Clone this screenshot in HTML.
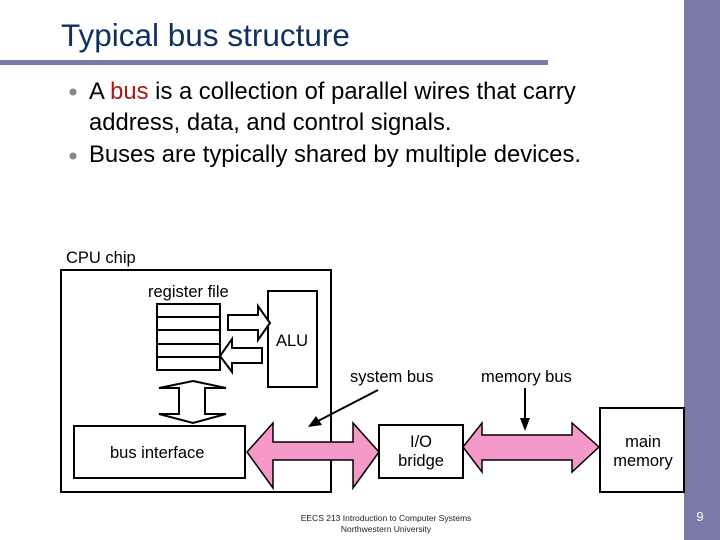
<!DOCTYPE html>
<html><head><meta charset="utf-8"><style>
body{margin:0;width:720px;height:540px;overflow:hidden;background:#fff}
svg{display:block}
</style></head><body>
<svg width="720" height="540" xmlns="http://www.w3.org/2000/svg" font-family="Liberation Sans, Arial, sans-serif">
<rect x="684" y="0" width="36" height="540" fill="#7a7aa6"/>
<text x="700" y="521" font-size="13" fill="#fff" text-anchor="middle">9</text>
<rect x="0" y="60" width="548" height="5" fill="#7a7aa6"/>
<text x="61" y="46" font-size="31.5" fill="#10305e">Typical bus structure</text>
<circle cx="73" cy="92" r="3.5" fill="#888"/>
<circle cx="73" cy="156" r="3.5" fill="#888"/>
<g font-size="23.8" fill="#000">
<text x="89" y="99">A <tspan fill="#b01818">bus</tspan> is a collection of parallel wires that carry</text>
<text x="89" y="130">address, data, and control signals.</text>
<text x="89" y="162">Buses are typically shared by multiple devices.</text>
</g>
<g fill="none" stroke="#000" stroke-width="2">
<rect x="61" y="270" width="270" height="222"/>
<rect x="268" y="291" width="49" height="96" fill="#fff"/>
<rect x="157" y="304" width="63" height="66"/>
<line x1="157" y1="317" x2="220" y2="317"/>
<line x1="157" y1="330" x2="220" y2="330"/>
<line x1="157" y1="344" x2="220" y2="344"/>
<line x1="157" y1="357" x2="220" y2="357"/>
<polygon points="228,315 258,315 258,306 270,323 258,340 258,330 228,330" fill="#fff"/>
<polygon points="262,348 232,348 232,339 220,356 232,372 232,363 262,363" fill="#fff"/>
<polygon points="193,381 226,388 205,388 205,414 226,414 193,423 159,414 179,414 179,388 159,388" fill="#fff"/>
<rect x="74" y="426" width="171" height="52" fill="#fff"/>
<rect x="379" y="425" width="84" height="53" fill="#fff"/>
<rect x="600" y="408" width="84" height="84" fill="#fff"/>
</g>
<g fill="#f59ac8" stroke="#000" stroke-width="1.5">
<polygon points="247,452 273,423 273,442 353,442 353,423 379,452 353,488 353,460 273,460 273,488"/>
<polygon points="463,447 482,423 482,435 572,435 572,423 599,447 572,472 572,460 482,460 482,472"/>
</g>
<g stroke="#000" stroke-width="2">
<line x1="525" y1="388" x2="525" y2="420"/>
<line x1="378" y1="390" x2="318" y2="421"/>
</g>
<polygon points="525,431 520,418 530,418" fill="#000"/>
<polygon points="308,427 316,416 322,425" fill="#000"/>
<g font-size="16.5" fill="#000">
<text x="66" y="263">CPU chip</text>
<text x="148" y="297">register file</text>
<text x="276" y="346">ALU</text>
<text x="350" y="382">system bus</text>
<text x="481" y="382">memory bus</text>
<text x="110" y="458">bus interface</text>
<text x="421" y="447" text-anchor="middle">I/O</text>
<text x="421" y="466" text-anchor="middle">bridge</text>
<text x="643" y="447" text-anchor="middle">main</text>
<text x="643" y="466" text-anchor="middle">memory</text>
</g>
<g font-size="8.5" fill="#223" text-anchor="middle">
<text x="386" y="521">EECS 213 Introduction to Computer Systems</text>
<text x="386" y="532">Northwestern University</text>
</g>
</svg>
</body></html>
